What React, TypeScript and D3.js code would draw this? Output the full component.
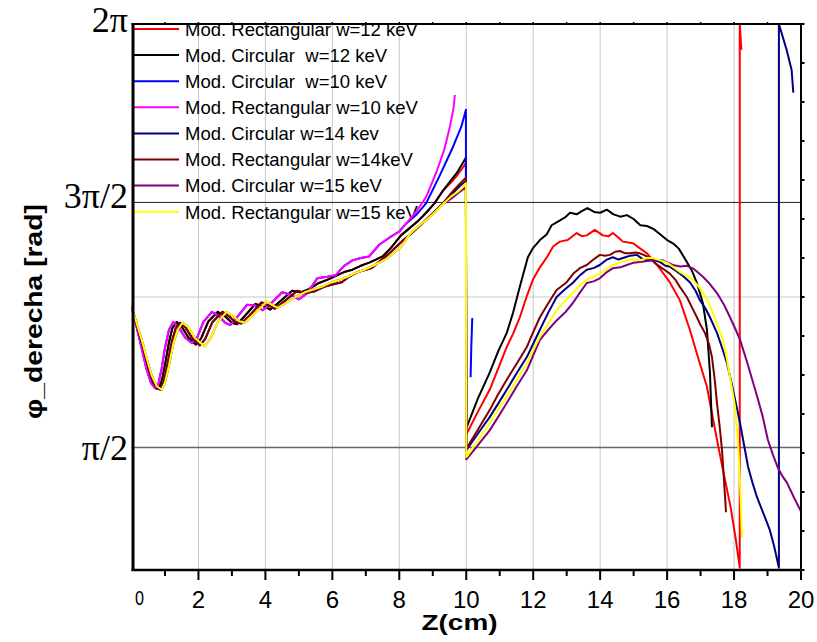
import React from 'react';
import * as d3 from 'd3';

type Pt = [number, number] | null;

// ---------- tick labels / legend ----------
const xTickValues = [0, 2, 4, 6, 8, 10, 12, 14, 16, 18, 20];
const xMinorTicks = [1, 3, 5, 7, 9, 11, 13, 15, 17, 19];
const yRightTicks = [0, 0.5, 1, 1.5, 2, 2.5, 3, 3.5, 4, 4.5, 5, 5.5, 6, 6.5, 7];
const yPiLabels = ['2π', '3π/2', 'π/2'];
const yPiValues = [2 * Math.PI, 1.5 * Math.PI, 0.5 * Math.PI];

const legendLabels = [
  'Mod. Rectangular w=12 keV',
  'Mod. Circular  w=12 keV',
  'Mod. Circular  w=10 keV',
  'Mod. Rectangular w=10 keV',
  'Mod. Circular w=14 kev',
  'Mod. Rectangular w=14keV',
  'Mod. Circular w=15 keV',
  'Mod. Rectangular w=15 keV',
];
const seriesColors = ['#ff0000', '#000000', '#0000ff', '#ff00ff', '#000080', '#800000', '#800080', '#ffff00'];

// ---------- data: z (cm), phase (rad) ----------
const leftW10: Pt[] = [
  [0, 3.38], [0.15, 3.12], [0.3, 2.85], [0.45, 2.57], [0.58, 2.4], [0.7, 2.33], [0.8, 2.38], [0.9, 2.58],
  [1.0, 2.85], [1.12, 3.08], [1.25, 3.18], [1.4, 3.12], [1.6, 2.98], [1.8, 2.91], [1.95, 2.97], [2.15, 3.18],
  [2.4, 3.31], [2.6, 3.26], [2.8, 3.17], [2.95, 3.14], [3.15, 3.24], [3.45, 3.4], [3.7, 3.39], [3.92, 3.33],
  [4.15, 3.41], [4.5, 3.56], [4.75, 3.53], [5.0, 3.47], [5.25, 3.55], [5.55, 3.74], [5.85, 3.76], [6.1, 3.78],
  [6.35, 3.9], [6.6, 3.97], [6.85, 4.0], [7.1, 4.02], [7.4, 4.17], [7.7, 4.26], [8.0, 4.34], [8.2, 4.44],
];
const magentaTail: Pt[] = [[8.5, 4.59], [8.8, 4.78], [9.1, 5.09], [9.35, 5.4], [9.52, 5.7], [9.62, 5.92], [9.66, 6.09]];
const blueTail: Pt[] = [
  [8.5, 4.55], [8.8, 4.7], [9.2, 5.05], [9.6, 5.42], [9.85, 5.68], [9.99, 5.9], [10.0, 1.6],
  null, [10.13, 2.47], [10.15, 2.85], [10.18, 3.23],
];

const leftW12: Pt[] = [
  [0, 3.38], [0.15, 3.14], [0.3, 2.9], [0.45, 2.64], [0.6, 2.43], [0.72, 2.33], [0.82, 2.32], [0.92, 2.45],
  [1.02, 2.68], [1.12, 2.92], [1.22, 3.1], [1.35, 3.18], [1.5, 3.12], [1.7, 2.98], [1.92, 2.89], [2.08, 2.97],
  [2.3, 3.19], [2.58, 3.31], [2.8, 3.25], [3.0, 3.17], [3.15, 3.15], [3.35, 3.24], [3.7, 3.41], [3.95, 3.38],
  [4.15, 3.34], [4.4, 3.43], [4.8, 3.58], [5.05, 3.56], [5.3, 3.6], [5.6, 3.68], [5.9, 3.73], [6.1, 3.77],
  [6.35, 3.82], [6.6, 3.85], [6.85, 3.9], [7.1, 3.94], [7.3, 3.98], [7.5, 4.02], [7.75, 4.13], [8.05, 4.29],
  [8.3, 4.38], [8.55, 4.47], [8.8, 4.58], [9.05, 4.7], [9.3, 4.86],
];
const blackTail: Pt[] = [[9.55, 5.0], [9.72, 5.09], [9.87, 5.2], [9.99, 5.29], [10.0, 1.82]];
const redTail: Pt[] = [[9.55, 4.97], [9.75, 5.07], [9.9, 5.16], [9.99, 5.22], [10.0, 1.74]];

const leftW14: Pt[] = [
  [0, 3.38], [0.15, 3.15], [0.3, 2.93], [0.45, 2.68], [0.6, 2.47], [0.75, 2.34], [0.87, 2.31], [0.97, 2.42],
  [1.08, 2.65], [1.2, 2.92], [1.32, 3.1], [1.45, 3.17], [1.6, 3.12], [1.8, 2.98], [2.04, 2.88], [2.2, 2.96],
  [2.42, 3.18], [2.72, 3.31], [2.92, 3.25], [3.1, 3.18], [3.27, 3.16], [3.5, 3.25], [3.88, 3.43], [4.1, 3.39],
  [4.28, 3.35], [4.55, 3.44], [4.95, 3.58], [5.2, 3.55], [5.45, 3.57], [5.75, 3.63], [6.0, 3.66], [6.28, 3.69],
  [6.5, 3.76], [6.76, 3.82], [7.0, 3.85], [7.17, 3.87], [7.4, 3.95], [7.65, 4.04], [7.9, 4.14], [8.1, 4.22],
  [8.4, 4.33], [8.7, 4.45], [9.0, 4.57], [9.3, 4.7],
];
const darkredTail: Pt[] = [[9.55, 4.83], [9.8, 4.95], [9.99, 5.03], [10.0, 1.56]];
const navyTail: Pt[] = [[9.55, 4.81], [9.8, 4.92], [9.99, 4.99], [10.0, 1.54]];

const leftW15: Pt[] = [
  [0, 3.38], [0.15, 3.17], [0.3, 2.96], [0.45, 2.72], [0.6, 2.5], [0.75, 2.36], [0.9, 2.31], [1.0, 2.4],
  [1.12, 2.62], [1.25, 2.9], [1.38, 3.08], [1.52, 3.17], [1.68, 3.12], [1.9, 2.97], [2.18, 2.87], [2.35, 2.96],
  [2.58, 3.18], [2.84, 3.31], [3.05, 3.25], [3.22, 3.19], [3.38, 3.17], [3.6, 3.26], [4.04, 3.44], [4.2, 3.4],
  [4.36, 3.36], [4.6, 3.42], [4.9, 3.5], [5.17, 3.56], [5.45, 3.6], [5.68, 3.63], [5.98, 3.69], [6.2, 3.72],
  [6.46, 3.76], [6.7, 3.81], [6.97, 3.85], [7.26, 3.91], [7.45, 3.95], [7.65, 4.0], [7.85, 4.07], [8.07, 4.15],
  [8.3, 4.3], [8.55, 4.4], [8.82, 4.49], [9.05, 4.58], [9.3, 4.69],
];
const yellowTail: Pt[] = [[9.55, 4.79], [9.75, 4.85], [9.9, 4.91], [9.99, 4.96], [10.0, 1.45]];
const purpleTail: Pt[] = [[9.55, 4.76], [9.75, 4.83], [9.9, 4.88], [9.99, 4.91], [10.0, 1.42]];

const blackRight: Pt[] = [
  [10.04, 1.86], [10.35, 2.2], [10.7, 2.53], [10.95, 2.8], [11.21, 3.04], [11.4, 3.3], [11.6, 3.63], [11.84, 4.01],
  [12.0, 4.13], [12.2, 4.23], [12.4, 4.3], [12.55, 4.42], [12.75, 4.47], [12.95, 4.52], [13.1, 4.58], [13.3, 4.56],
  [13.45, 4.6], [13.62, 4.64], [13.82, 4.59], [14.0, 4.58], [14.2, 4.62], [14.4, 4.56], [14.6, 4.53], [14.8, 4.55],
  [15.0, 4.5], [15.2, 4.42], [15.4, 4.41], [15.6, 4.37], [15.8, 4.3], [16.0, 4.23], [16.2, 4.18], [16.35, 4.12],
  [16.59, 3.95], [16.75, 3.83], [16.89, 3.68], [17.07, 3.42], [17.19, 3.08], [17.28, 2.53], [17.34, 1.83],
];
const redRight: Pt[] = [
  [10.04, 1.77], [10.35, 2.03], [10.7, 2.31], [10.95, 2.58], [11.21, 2.86], [11.4, 3.03], [11.6, 3.24], [11.8, 3.5],
  [11.99, 3.72], [12.2, 3.88], [12.41, 4.01], [12.6, 4.15], [12.8, 4.21], [13.03, 4.23], [13.3, 4.32], [13.45, 4.28],
  [13.6, 4.29], [13.84, 4.36], [14.08, 4.29], [14.25, 4.28], [14.38, 4.32], [14.55, 4.26], [14.68, 4.21], [14.98, 4.19],
  [15.2, 4.12], [15.4, 4.06], [15.7, 3.91], [16.08, 3.69], [16.38, 3.46], [16.68, 3.08], [16.92, 2.73], [17.19, 2.35],
  [17.49, 1.67], [17.67, 1.28], [17.9, 0.8], [18.05, 0.4], [18.17, 0.03], [18.17, 7.0], [18.22, 6.67],
];
const navyRight: Pt[] = [
  [10.01, 1.54], [10.35, 1.75], [10.7, 1.96], [10.95, 2.13], [11.21, 2.31], [11.5, 2.52], [11.81, 2.73], [12.0, 2.9],
  [12.2, 3.08], [12.45, 3.3], [12.7, 3.5], [12.95, 3.6], [13.18, 3.68], [13.4, 3.78], [13.6, 3.85], [13.8, 3.87],
  [13.99, 3.91], [14.2, 3.98], [14.38, 4.01], [14.55, 3.98], [14.68, 4.0], [14.9, 4.03], [15.1, 4.04], [15.25, 3.99],
  [15.4, 3.97], [15.6, 3.97], [15.78, 3.95], [15.95, 3.9], [16.08, 3.89], [16.25, 3.84], [16.38, 3.8], [16.55, 3.74],
  [16.68, 3.69], [16.85, 3.58], [16.98, 3.46], [17.15, 3.35], [17.28, 3.24], [17.49, 3.04], [17.65, 2.84], [17.79, 2.65],
  [17.97, 2.31], [18.18, 1.88], [18.3, 1.6], [18.42, 1.32], [18.55, 1.12], [18.68, 0.94], [18.9, 0.7], [19.07, 0.51],
  [19.2, 0.3], [19.34, 0.03], [19.34, 7.0], [19.57, 6.67], [19.72, 6.41], [19.77, 6.12],
];
const darkredRight: Pt[] = [
  [10.01, 1.56], [10.35, 1.8], [10.7, 2.05], [10.95, 2.25], [11.21, 2.44], [11.5, 2.64], [11.81, 2.86], [12.0, 3.05],
  [12.2, 3.24], [12.45, 3.42], [12.7, 3.59], [13.0, 3.69], [13.2, 3.8], [13.39, 3.87], [13.6, 3.91], [13.8, 3.98],
  [13.99, 4.04], [14.15, 4.03], [14.29, 4.04], [14.45, 4.08], [14.59, 4.09], [14.75, 4.06], [14.89, 4.06], [15.05, 4.07],
  [15.19, 4.06], [15.35, 4.03], [15.49, 4.0], [15.65, 3.93], [15.78, 3.89], [15.95, 3.84], [16.08, 3.8], [16.25, 3.72],
  [16.38, 3.63], [16.59, 3.5], [16.75, 3.36], [16.89, 3.24], [17.0, 3.14], [17.13, 3.04], [17.25, 2.9], [17.34, 2.73],
  [17.42, 2.45], [17.49, 2.14], [17.58, 1.8], [17.64, 1.54], [17.7, 1.15], [17.76, 0.74],
];
const purpleRight: Pt[] = [
  [10.01, 1.42], [10.35, 1.6], [10.7, 1.79], [10.95, 1.96], [11.21, 2.14], [11.5, 2.35], [11.81, 2.56], [12.0, 2.75],
  [12.2, 2.95], [12.45, 3.08], [12.7, 3.2], [12.95, 3.3], [13.18, 3.42], [13.4, 3.56], [13.6, 3.68], [13.8, 3.7],
  [13.99, 3.74], [14.2, 3.82], [14.38, 3.87], [14.6, 3.88], [14.8, 3.91], [15.0, 3.94], [15.19, 3.95], [15.4, 3.96],
  [15.58, 3.97], [15.87, 3.97], [16.17, 3.91], [16.4, 3.89], [16.59, 3.9], [16.8, 3.86], [17.07, 3.76], [17.25, 3.68],
  [17.49, 3.55], [17.7, 3.4], [17.88, 3.24], [18.05, 3.08], [18.18, 2.95], [18.4, 2.65], [18.57, 2.4], [18.72, 2.18],
  [18.86, 1.96], [19.01, 1.67], [19.16, 1.48], [19.31, 1.31], [19.45, 1.2], [19.58, 1.12], [19.8, 0.92], [20.0, 0.75],
];
const yellowRight: Pt[] = [
  [10.01, 1.45], [10.35, 1.66], [10.7, 1.88], [10.95, 2.05], [11.21, 2.22], [11.5, 2.43], [11.81, 2.65], [12.0, 2.82],
  [12.2, 2.99], [12.45, 3.16], [12.7, 3.33], [12.95, 3.45], [13.18, 3.55], [13.4, 3.65], [13.6, 3.72], [13.8, 3.76],
  [13.99, 3.8], [14.2, 3.86], [14.38, 3.91], [14.6, 3.94], [14.8, 3.97], [15.0, 3.98], [15.19, 3.97], [15.4, 4.0],
  [15.58, 4.0], [15.8, 3.97], [15.99, 3.94], [16.2, 3.88], [16.38, 3.82], [16.6, 3.77], [16.77, 3.72], [16.95, 3.63],
  [17.07, 3.55], [17.25, 3.42], [17.37, 3.29], [17.52, 3.12], [17.67, 2.95], [17.78, 2.72], [17.88, 2.47], [17.97, 2.25],
  [18.03, 2.09], [18.12, 1.63], [18.18, 1.1], [18.24, 0.42],
];

const seriesData: Pt[][] = [
  [...leftW12, ...redTail, ...redRight],
  [...leftW12, ...blackTail, ...blackRight],
  [...leftW10, ...blueTail],
  [...leftW10, ...magentaTail],
  [...leftW14, ...navyTail, ...navyRight],
  [...leftW14, ...darkredTail, ...darkredRight],
  [...leftW15, ...purpleTail, ...purpleRight],
  [...leftW15, ...yellowTail, ...yellowRight],
];

const X0 = 131.5, X1 = 801, Y0 = 570, Y1 = 24;

export default function App() {
  const x = d3.scaleLinear().domain([0, 20]).range([X0, X1]);
  const y = d3.scaleLinear().domain([0, 7]).range([Y0, Y1]);
  const line = d3
    .line<Pt>()
    .defined((d) => d !== null)
    .x((d) => x((d as [number, number])[0]))
    .y((d) => y((d as [number, number])[1]));

  const sans = 'Liberation Sans, Arial, sans-serif';
  const serif = 'Liberation Serif, Times New Roman, serif';

  return (
    <svg width={817} height={642} style={{ position: 'absolute', left: 0, top: 0, background: '#fff' }}>
      <defs>
        <clipPath id="plotClip">
          <rect x={X0} y={Y1} width={X1 - X0} height={Y0 - Y1} />
        </clipPath>
      </defs>
      <rect x={0} y={0} width={817} height={642} fill="#fff" />

      {/* grid */}
      {xTickValues.filter((v) => v > 0 && v < 20).map((v) => (
        <line key={'gx' + v} x1={x(v)} x2={x(v)} y1={Y1} y2={Y0} stroke="#c8c8c8" strokeWidth={1} />
      ))}
      <line x1={X0} x2={X1} y1={y(3.5)} y2={y(3.5)} stroke="#c8c8c8" strokeWidth={1} />
      <line x1={X0} x2={X1} y1={y(yPiValues[1])} y2={y(yPiValues[1])} stroke="#222" strokeWidth={1} />
      <line x1={X0} x2={X1} y1={y(yPiValues[2])} y2={y(yPiValues[2])} stroke="#666" strokeWidth={1.6} />

      {/* legend */}
      {legendLabels.map((lab, i) => {
        const cy = 29 + i * 26.1;
        return (
          <g key={'lg' + i}>
            <line x1={132} x2={179} y1={cy} y2={cy} stroke={seriesColors[i]} strokeWidth={2} />
            <text x={185} y={cy + 6.8} fontFamily={sans} fontSize={18.5} fill="#000" style={{ whiteSpace: 'pre' }}>
              {lab}
            </text>
          </g>
        );
      })}

      {/* series */}
      <g clipPath="url(#plotClip)">
        {seriesData.map((d, i) => (
          <path key={'s' + i} d={line(d) || ''} fill="none" stroke={seriesColors[i]} strokeWidth={2} strokeLinejoin="round" />
        ))}
      </g>

      {/* frame */}
      <line x1={X0} x2={X1} y1={Y1} y2={Y1} stroke="#000" strokeWidth={2} />
      <line x1={X1} x2={X1} y1={Y1 - 1} y2={Y0 + 1} stroke="#000" strokeWidth={2} />
      <line x1={X0} x2={X1 + 1} y1={Y0} y2={Y0} stroke="#000" strokeWidth={2.5} />
      <line x1={133} x2={133} y1={Y1 - 1} y2={Y0 + 1} stroke="#000" strokeWidth={3} />

      {/* bottom ticks */}
      {xTickValues.filter((v) => v > 0).map((v) => (
        <line key={'tx' + v} x1={x(v)} x2={x(v)} y1={Y0} y2={Y0 + 10} stroke="#000" strokeWidth={2} />
      ))}
      {xMinorTicks.map((v) => (
        <line key={'mx' + v} x1={x(v)} x2={x(v)} y1={Y0} y2={Y0 + 6} stroke="#000" strokeWidth={2} />
      ))}
      {/* top ticks */}
      {[...xTickValues, ...xMinorTicks].filter((v) => v > 0 && v < 20).map((v) => (
        <line key={'tt' + v} x1={x(v)} x2={x(v)} y1={Y1} y2={Y1 - 2} stroke="#000" strokeWidth={1.5} />
      ))}
      {/* right ticks */}
      {yRightTicks.map((v) => (
        <line key={'ry' + v} x1={X1} x2={X1 + 3.5} y1={y(v)} y2={y(v)} stroke="#000" strokeWidth={2} />
      ))}

      {/* x tick labels */}
      {xTickValues.map((v) =>
        v === 0 ? (
          <text key={'lx0'} x={x(v) + 8} y={605} fontFamily={sans} fontSize={21} textAnchor="middle" textLength={9} lengthAdjust="spacingAndGlyphs">
            {String(v)}
          </text>
        ) : (
          <text key={'lx' + v} x={x(v)} y={608} fontFamily={sans} fontSize={24} textAnchor="middle">
            {String(v)}
          </text>
        )
      )}

      {/* y pi labels */}
      <text x={128} y={32} fontFamily={serif} fontSize={36} textAnchor="end">{yPiLabels[0]}</text>
      <text x={128} y={208} fontFamily={serif} fontSize={36} textAnchor="end">{yPiLabels[1]}</text>
      <text x={128} y={460} fontFamily={serif} fontSize={36} textAnchor="end">{yPiLabels[2]}</text>

      {/* axis titles */}
      <text x={421.5} y={630} fontFamily={sans} fontWeight="bold" fontSize={22} textLength={76} lengthAdjust="spacingAndGlyphs">
        Z(cm)
      </text>
      <text
        transform="translate(42,419) rotate(-90)"
        x={0}
        y={0}
        fontFamily={sans}
        fontWeight="bold"
        fontSize={24}
        textLength={215}
        lengthAdjust="spacingAndGlyphs"
      >
        φ_derecha [rad]
      </text>
    </svg>
  );
}
